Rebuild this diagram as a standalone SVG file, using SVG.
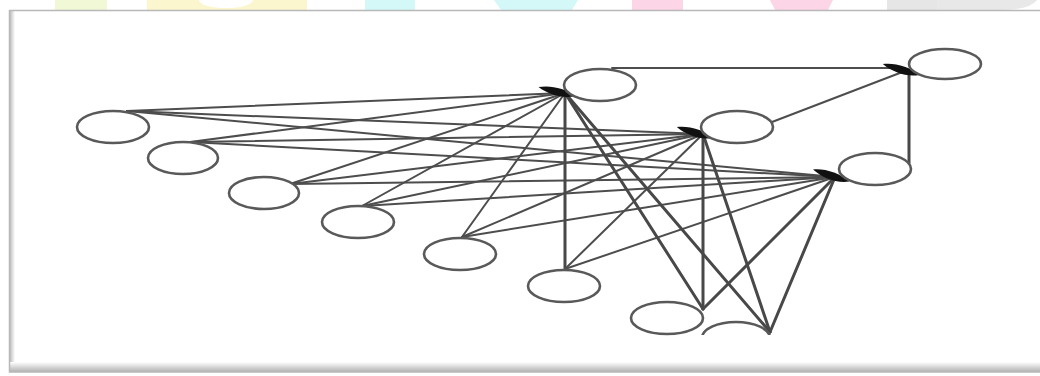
<svg xmlns="http://www.w3.org/2000/svg" width="1040" height="376" viewBox="0 0 1040 376">
<style>
.node{fill:#fff;stroke:#595959;stroke-width:2.6}
.ln{stroke:#4d4d4d;stroke-width:2;fill:none;stroke-linecap:round}
.tk{stroke:#484848;stroke-width:3;fill:none;stroke-linecap:round}
.blob{fill:#111}
</style>
<defs>
<path id="head" d="M-19,-2 C-8,-6 8,-5 19,1 C8,6 -8,4 -19,-2 Z"/>
<linearGradient id="lg" x1="0" y1="0" x2="1" y2="0">
<stop offset="0" stop-color="#b0b0b0"/><stop offset="1" stop-color="#ffffff"/>
</linearGradient>
<linearGradient id="bg" x1="0" y1="1" x2="0" y2="0">
<stop offset="0" stop-color="#b0b0b0"/><stop offset="1" stop-color="#ffffff"/>
</linearGradient>
<clipPath id="cut8"><rect x="690" y="300" width="100" height="35"/></clipPath>
</defs>
<rect width="1040" height="376" fill="#fff"/>
<g id="strip">
<rect x="55" y="0" width="52" height="10" fill="#f0f8d6"/>
<path d="M147,0 H307 V10 H147 Z" fill="#fcf6cf"/>
<ellipse cx="226" cy="0" rx="27" ry="8" fill="#fff"/>
<rect x="365" y="0" width="50" height="10" fill="#d4f8f8"/>
<path d="M494,0 H578 L572,10 H501 Z" fill="#d4f8f8"/>
<rect x="632" y="0" width="51" height="10" fill="#fcd5e6"/>
<path d="M770,0 H833 L828,10 H775 Z" fill="#fcd5e6"/>
<rect x="887" y="0" width="50" height="10" fill="#e6e6e6"/>
<path d="M937,0 H1037 Q1030,10 1000,10 H937 Z" fill="#e8e8e8"/>
</g>
<g id="frame">
<rect x="9" y="10" width="1040" height="362" fill="#fff"/>
<rect x="9" y="10" width="6" height="362" fill="url(#lg)"/>
<rect x="9" y="362" width="1040" height="10" fill="url(#bg)"/>
<path d="M1040,10.5 H9.5 V372 H1040" fill="none" stroke="#b8b8b8" stroke-width="1.5"/>
</g>
<g id="connectors">
<line class="ln" x1="127" y1="111" x2="565" y2="93"/>
<line class="ln" x1="127" y1="111" x2="703" y2="134"/>
<line class="ln" x1="127" y1="111" x2="835" y2="177"/>
<line class="ln" x1="190" y1="142" x2="565" y2="93"/>
<line class="ln" x1="190" y1="142" x2="703" y2="134"/>
<line class="ln" x1="190" y1="142" x2="835" y2="177"/>
<line class="ln" x1="290" y1="184" x2="565" y2="93"/>
<line class="ln" x1="290" y1="184" x2="703" y2="134"/>
<line class="ln" x1="290" y1="184" x2="835" y2="177"/>
<line class="ln" x1="362" y1="206" x2="565" y2="93"/>
<line class="ln" x1="362" y1="206" x2="703" y2="134"/>
<line class="ln" x1="362" y1="206" x2="835" y2="177"/>
<line class="ln" x1="462" y1="237" x2="565" y2="93"/>
<line class="ln" x1="462" y1="237" x2="703" y2="134"/>
<line class="ln" x1="462" y1="237" x2="835" y2="177"/>
<line class="tk" x1="565" y1="269" x2="565" y2="93"/>
<line class="ln" x1="565" y1="269" x2="703" y2="134"/>
<line class="ln" x1="565" y1="269" x2="835" y2="177"/>
<line class="tk" x1="703" y1="309" x2="565" y2="93"/>
<line class="tk" x1="703" y1="309" x2="703" y2="134"/>
<line class="tk" x1="703" y1="309" x2="835" y2="177"/>
<line class="tk" x1="770" y1="332" x2="565" y2="93"/>
<line class="tk" x1="770" y1="332" x2="703" y2="134"/>
<line class="tk" x1="770" y1="332" x2="835" y2="177"/>
<line class="ln" x1="612" y1="68" x2="905" y2="68"/>
<line class="ln" x1="772" y1="122" x2="905" y2="71"/>
<line class="tk" x1="909" y1="163" x2="909" y2="72"/>
<use href="#head" class="blob" transform="translate(557,92) rotate(9)"/>
<use href="#head" class="blob" transform="translate(695,133) rotate(12)"/>
<use href="#head" class="blob" transform="translate(831,176) rotate(14)"/>
<use href="#head" class="blob" transform="translate(901,70) rotate(12)"/>
</g>
<g id="i1"><ellipse class="node" cx="113" cy="127" rx="36" ry="16"/></g>
<g id="i2"><ellipse class="node" cx="183" cy="158" rx="35" ry="16"/></g>
<g id="i3"><ellipse class="node" cx="264" cy="193" rx="35" ry="16"/></g>
<g id="i4"><ellipse class="node" cx="358" cy="222" rx="36" ry="16"/></g>
<g id="i5"><ellipse class="node" cx="460" cy="254" rx="36" ry="16"/></g>
<g id="i6"><ellipse class="node" cx="564" cy="286" rx="36" ry="16"/></g>
<g id="i7"><ellipse class="node" cx="667" cy="318" rx="36" ry="16"/></g>
<g id="i8" clip-path="url(#cut8)"><ellipse class="node" cx="736" cy="338" rx="34" ry="16"/></g>
<g id="h1"><ellipse class="node" cx="600" cy="85" rx="36" ry="16"/></g>
<g id="h2"><ellipse class="node" cx="737" cy="127" rx="36" ry="16"/></g>
<g id="h3"><ellipse class="node" cx="875" cy="169" rx="36" ry="16"/></g>
<g id="out"><ellipse class="node" cx="945" cy="64" rx="36" ry="15"/></g>
</svg>
